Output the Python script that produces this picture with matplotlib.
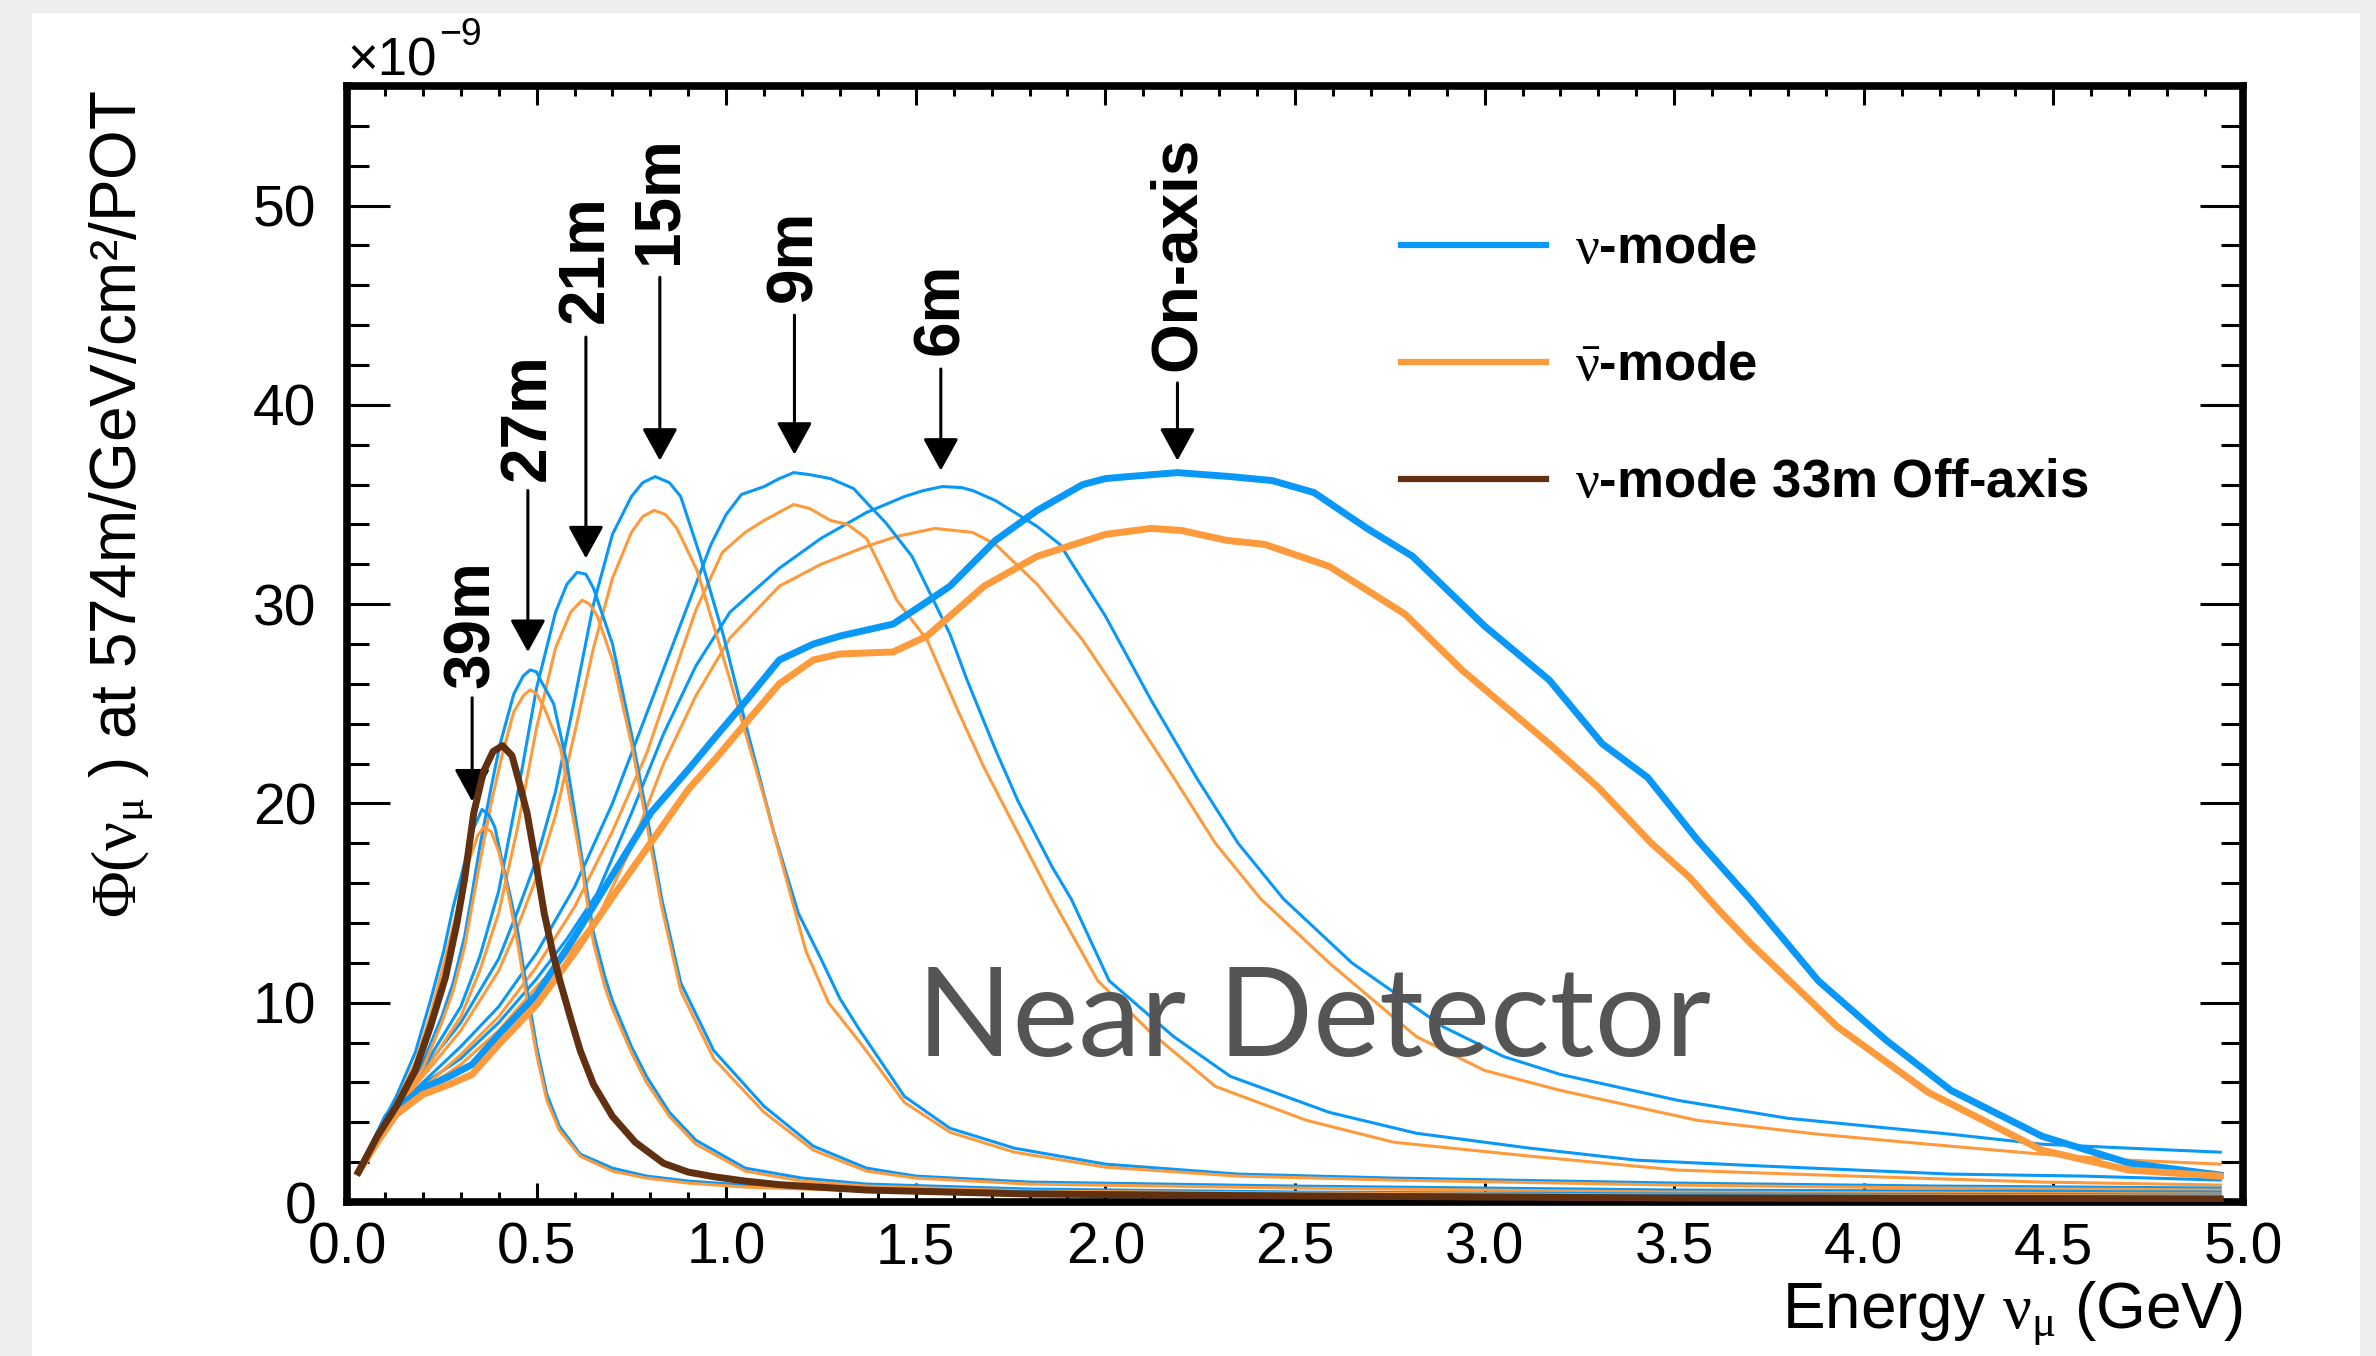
import matplotlib
matplotlib.use('Agg')
import matplotlib.pyplot as plt
from matplotlib.lines import Line2D
from matplotlib.patches import Rectangle
from matplotlib.ticker import MultipleLocator
import matplotlib.transforms as mtransforms

plt.rcParams['font.family'] = ['Liberation Sans', 'DejaVu Sans']
plt.rcParams['mathtext.fontset'] = 'custom'
plt.rcParams['mathtext.rm'] = 'Liberation Serif'
plt.rcParams['mathtext.it'] = 'Liberation Serif'
plt.rcParams['mathtext.bf'] = 'Liberation Serif:bold'

# ---- flux curves (x in GeV, y in 1e-9 units) ----
onaxis_nu_x = [0.03, 0.08, 0.13, 0.2, 0.27, 0.33, 0.4, 0.5, 0.6, 0.7, 0.8, 0.9, 0.97, 1.05, 1.14, 1.23,
               1.3, 1.37, 1.44, 1.52, 1.59, 1.71, 1.82, 1.94, 2.0, 2.06, 2.19, 2.33, 2.44, 2.55, 2.69, 2.81,
               3.0, 3.17, 3.31, 3.43, 3.56, 3.7, 3.88, 4.06, 4.23, 4.47, 4.7, 4.94]
onaxis_nu_y = [1.5, 3.2, 4.7, 5.7, 6.3, 6.9, 8.4, 10.4, 13.3, 16.4, 19.5, 21.7, 23.3, 25.1, 27.2, 28.0,
               28.4, 28.7, 29.0, 30.0, 30.9, 33.2, 34.7, 36.0, 36.3, 36.4, 36.6, 36.4, 36.2, 35.6, 33.8, 32.4,
               28.9, 26.2, 23.0, 21.3, 18.2, 15.2, 11.1, 8.1, 5.6, 3.3, 1.95, 1.35]
onaxis_nubar_x = [0.03, 0.08, 0.13, 0.2, 0.27, 0.33, 0.4, 0.5, 0.6, 0.7, 0.8, 0.9, 0.97, 1.05, 1.14, 1.23,
                  1.3, 1.44, 1.53, 1.68, 1.82, 2.0, 2.12, 2.2, 2.32, 2.42, 2.59, 2.79, 2.94, 3.17, 3.3,
                  3.44, 3.54, 3.62, 3.7, 3.93, 4.17, 4.47, 4.7, 4.94]
onaxis_nubar_y = [1.5, 3.0, 4.4, 5.4, 5.9, 6.4, 7.9, 9.9, 12.5, 15.3, 18.0, 20.7, 22.2, 24.0, 26.0, 27.2,
                  27.5, 27.6, 28.4, 30.9, 32.4, 33.5, 33.8, 33.7, 33.2, 33.0, 31.9, 29.5, 26.7, 23.0, 20.8,
                  18.0, 16.3, 14.6, 13.0, 8.8, 5.5, 2.6, 1.6, 1.3]

m6_nu_x = [0.03, 0.1, 0.2, 0.3, 0.4, 0.5, 0.58, 0.66, 0.75, 0.835, 0.92, 1.01, 1.14, 1.25, 1.37, 1.47,
           1.52, 1.57, 1.62, 1.65, 1.71, 1.82, 1.88, 2.0, 2.12, 2.24, 2.35, 2.47, 2.65, 2.89, 3.05, 3.2,
           3.51, 3.8, 4.23, 4.47, 4.7, 4.94]
m6_nu_y = [1.5, 4.0, 5.9, 7.2, 9.0, 11.2, 13.2, 15.5, 19.5, 23.5, 26.9, 29.6, 31.8, 33.3, 34.6, 35.4,
           35.7, 35.9, 35.85, 35.7, 35.2, 33.9, 33.0, 29.4, 25.2, 21.3, 18.0, 15.2, 12.0, 8.8, 7.3, 6.4,
           5.1, 4.2, 3.4, 2.9, 2.7, 2.5]
m6_nubar_x = [0.03, 0.1, 0.2, 0.3, 0.4, 0.5, 0.58, 0.66, 0.75, 0.835, 0.92, 1.01, 1.14, 1.25, 1.37, 1.45,
              1.55, 1.65, 1.71, 1.82, 1.94, 2.06, 2.18, 2.29, 2.41, 2.59, 2.82, 3.0, 3.2, 3.56, 3.88,
              4.17, 4.47, 4.7, 4.94]
m6_nubar_y = [1.5, 3.8, 5.6, 6.9, 8.6, 10.8, 12.4, 14.2, 17.8, 22.0, 25.4, 28.3, 30.9, 32.0, 32.9, 33.4,
              33.8, 33.6, 33.0, 31.0, 28.2, 24.8, 21.3, 18.0, 15.2, 12.0, 8.3, 6.6, 5.6, 4.1, 3.4,
              2.9, 2.4, 2.1, 1.9]

m9_nu_x = [0.03, 0.1, 0.2, 0.3, 0.4, 0.5, 0.6, 0.7, 0.79, 0.88, 0.96, 1.0, 1.04, 1.1, 1.14, 1.178, 1.22,
           1.275, 1.336, 1.37, 1.42, 1.49, 1.59, 1.635, 1.71, 1.77, 1.86, 1.91, 2.01, 2.18, 2.33, 2.59,
           2.82, 3.12, 3.4, 3.74, 4.23, 4.58, 4.94]
m9_nu_y = [1.5, 4.1, 6.0, 7.8, 9.8, 12.5, 15.8, 20.0, 24.5, 29.0, 33.0, 34.5, 35.5, 35.9, 36.3, 36.6, 36.5,
           36.3, 35.8, 35.1, 34.1, 32.4, 28.5, 26.2, 22.7, 20.1, 16.8, 15.2, 11.1, 8.3, 6.3, 4.5,
           3.45, 2.7, 2.1, 1.8, 1.4, 1.3, 1.1]
m9_nubar_x = [0.03, 0.1, 0.2, 0.3, 0.4, 0.5, 0.6, 0.7, 0.79, 0.835, 0.92, 0.99, 1.05, 1.1, 1.178, 1.22,
              1.275, 1.32, 1.37, 1.45, 1.53, 1.61, 1.68, 1.77, 1.86, 1.98, 2.12, 2.29, 2.53, 2.76, 3.12,
              3.51, 3.97, 4.47, 4.94]
m9_nubar_y = [1.5, 3.9, 5.7, 7.4, 9.3, 11.8, 14.8, 18.6, 22.5, 25.0, 29.7, 32.6, 33.6, 34.2, 35.0, 34.8,
              34.2, 34.0, 33.3, 30.2, 28.2, 24.7, 21.8, 18.5, 15.2, 11.1, 8.5, 5.8, 4.1, 3.0, 2.3,
              1.6, 1.3, 1.0, 0.85]

m15_nu_x = [0.03, 0.1, 0.2, 0.3, 0.4, 0.45, 0.5, 0.55, 0.6, 0.65, 0.7, 0.75, 0.78, 0.813, 0.85, 0.88,
            0.93, 0.993, 1.055, 1.125, 1.19, 1.25, 1.3, 1.353, 1.47, 1.59, 1.76, 2.0, 2.35, 2.76, 3.5,
            4.2, 4.94]
m15_nu_y = [1.5, 4.2, 6.6, 9.0, 12.2, 14.6, 17.2, 20.6, 25.2, 30.0, 33.5, 35.4, 36.1, 36.4, 36.1, 35.4,
            32.5, 28.4, 23.7, 18.6, 14.5, 12.2, 10.2, 8.6, 5.3, 3.7, 2.7, 1.9, 1.4, 1.2, 0.95,
            0.8, 0.7]
m15_nubar_x = [0.03, 0.1, 0.2, 0.3, 0.4, 0.45, 0.5, 0.55, 0.6, 0.65, 0.7, 0.75, 0.78, 0.81, 0.84, 0.87,
               0.923, 1.01, 1.1, 1.15, 1.21, 1.27, 1.353, 1.47, 1.59, 1.76, 2.0, 2.35, 2.76, 3.5, 4.2, 4.94]
m15_nubar_y = [1.5, 4.0, 6.3, 8.6, 11.6, 13.8, 16.3, 19.4, 23.5, 27.8, 31.3, 33.6, 34.4, 34.7, 34.5, 33.8,
               31.7, 26.2, 20.3, 16.8, 12.6, 10.0, 8.0, 5.0, 3.5, 2.5, 1.75, 1.3, 1.1, 0.85, 0.7, 0.6]

m21_nu_x = [0.03, 0.1, 0.2, 0.3, 0.35, 0.4, 0.45, 0.5, 0.55, 0.58, 0.607, 0.63, 0.65, 0.7, 0.75, 0.79,
            0.83, 0.88, 0.967, 1.1, 1.23, 1.37, 1.5, 1.8, 2.5, 3.5, 4.94]
m21_nu_y = [1.5, 4.3, 6.7, 9.8, 12.3, 15.6, 20.5, 25.8, 29.6, 31.0, 31.6, 31.5, 30.8, 28.0, 23.5, 19.5,
            15.2, 11.0, 7.6, 4.8, 2.8, 1.7, 1.3, 1.0, 0.8, 0.6, 0.5]
m21_nubar_x = [0.03, 0.1, 0.2, 0.3, 0.35, 0.4, 0.45, 0.5, 0.55, 0.59, 0.62, 0.64, 0.66, 0.7, 0.75, 0.79,
               0.83, 0.88, 0.967, 1.1, 1.23, 1.37, 1.5, 1.8, 2.5, 3.5, 4.94]
m21_nubar_y = [1.5, 4.1, 6.4, 9.3, 11.6, 14.5, 18.8, 23.8, 27.8, 29.6, 30.2, 30.0, 29.4, 27.2, 23.0, 19.0,
               14.8, 10.6, 7.2, 4.5, 2.6, 1.55, 1.2, 0.9, 0.7, 0.5, 0.4]

m27_nu_x = [0.03, 0.1, 0.15, 0.2, 0.25, 0.28, 0.31, 0.33, 0.35, 0.38, 0.404, 0.44, 0.465, 0.483, 0.5, 0.51,
            0.545, 0.58, 0.615, 0.65, 0.68, 0.7, 0.75, 0.79, 0.85, 0.92, 1.05, 1.2, 1.37, 1.8, 2.5, 3.5, 4.94]
m27_nu_y = [1.5, 4.3, 5.4, 7.0, 9.3, 11.0, 13.3, 15.5, 17.8, 20.8, 23.0, 25.5, 26.4, 26.7, 26.6, 26.2,
            25.0, 22.0, 17.8, 13.5, 11.3, 10.1, 7.8, 6.3, 4.5, 3.1, 1.7, 1.2, 0.9, 0.65, 0.5, 0.4, 0.35]
m27_nubar_x = [0.03, 0.1, 0.15, 0.2, 0.25, 0.28, 0.31, 0.35, 0.38, 0.41, 0.44, 0.465, 0.483, 0.5, 0.52,
               0.563, 0.615, 0.65, 0.68, 0.7, 0.75, 0.79, 0.85, 0.92, 1.05, 1.2, 1.37, 1.8, 2.5, 3.5, 4.94]
m27_nubar_y = [1.5, 4.1, 5.2, 6.7, 9.0, 10.6, 12.8, 17.0, 20.0, 22.5, 24.6, 25.4, 25.7, 25.5, 24.8,
               22.8, 17.3, 13.0, 10.8, 9.7, 7.5, 6.0, 4.3, 2.9, 1.55, 1.05, 0.8, 0.55, 0.45, 0.35, 0.3]

m39_nu_x = [0.03, 0.08, 0.13, 0.18, 0.22, 0.255, 0.28, 0.31, 0.335, 0.356, 0.375, 0.39, 0.41, 0.43, 0.45,
            0.475, 0.5, 0.527, 0.56, 0.615, 0.7, 0.79, 0.9, 1.05, 1.37, 2.0, 3.0, 4.0, 4.94]
m39_nu_y = [1.5, 3.5, 5.3, 7.5, 10.1, 12.6, 14.8, 17.0, 18.8, 19.7, 19.4, 18.8, 17.0, 15.4, 13.6,
            10.6, 7.8, 5.4, 3.8, 2.4, 1.7, 1.3, 1.05, 0.85, 0.65, 0.45, 0.35, 0.3, 0.25]
m39_nubar_x = [0.03, 0.08, 0.13, 0.18, 0.22, 0.26, 0.29, 0.32, 0.345, 0.36, 0.38, 0.4, 0.42, 0.45, 0.475,
               0.5, 0.527, 0.56, 0.615, 0.7, 0.79, 0.9, 1.05, 1.37, 2.0, 3.0, 4.0, 4.94]
m39_nubar_y = [1.5, 3.3, 5.0, 7.0, 9.4, 12.3, 14.6, 17.0, 18.4, 18.8, 18.6, 17.6, 16.0, 13.0, 10.1,
               7.4, 5.1, 3.6, 2.3, 1.55, 1.2, 0.95, 0.75, 0.55, 0.4, 0.3, 0.25, 0.2]

m33_nu_x = [0.03, 0.08, 0.13, 0.18, 0.22, 0.26, 0.29, 0.31, 0.334, 0.36, 0.385, 0.41, 0.435, 0.455, 0.475,
            0.5, 0.52, 0.545, 0.563, 0.59, 0.615, 0.65, 0.7, 0.76, 0.835, 0.9, 0.967, 1.05, 1.14, 1.37,
            1.8, 2.5, 3.5, 4.94]
m33_nu_y = [1.5, 3.3, 4.8, 6.6, 8.8, 11.3, 14.0, 16.2, 19.5, 21.6, 22.6, 22.9, 22.4, 21.0, 19.5,
            16.8, 14.5, 12.3, 11.0, 9.2, 7.6, 5.9, 4.3, 3.0, 1.94, 1.5, 1.27, 1.05, 0.87, 0.6,
            0.4, 0.3, 0.2, 0.15]

# arrow annotations: label, x, arrow tip, arrow tail, label centre
arrow_labels = ['39m', '27m', '21m', '15m', '9m', '6m', 'On-axis']
arrow_x = [0.33, 0.477, 0.63, 0.825, 1.18, 1.566, 2.19]
arrow_tip = [20.1, 27.6, 32.3, 37.2, 37.5, 36.7, 37.2]
arrow_tail = [25.3, 35.7, 43.4, 46.4, 44.5, 41.8, 41.1]
label_y = [29.0, 39.4, 47.3, 50.3, 47.5, 44.8, 47.6]

legend_labels = [r'$\nu$-mode', r'$\bar{\nu}$-mode', r'$\nu$-mode 33m Off-axis']

BLUE = '#0998f7'
ORANGE = '#fd9a3c'
BROWN = '#603010'

fig = plt.figure(figsize=(23.76, 13.56), dpi=100, facecolor='#eceeef')
fig.patches.append(Rectangle((32 / 2376, 0), (2360 - 32) / 2376, 1 - 13 / 1356,
                             transform=fig.transFigure, facecolor='white', edgecolor='none', zorder=-5))

ax = fig.add_axes([347 / 2376, 1 - 1202 / 1356, (2243 - 347) / 2376, (1202 - 86) / 1356])
ax.set_facecolor('none')

thin = [(m6_nu_x, m6_nu_y, m6_nubar_x, m6_nubar_y),
        (m9_nu_x, m9_nu_y, m9_nubar_x, m9_nubar_y),
        (m15_nu_x, m15_nu_y, m15_nubar_x, m15_nubar_y),
        (m21_nu_x, m21_nu_y, m21_nubar_x, m21_nubar_y),
        (m27_nu_x, m27_nu_y, m27_nubar_x, m27_nubar_y),
        (m39_nu_x, m39_nu_y, m39_nubar_x, m39_nubar_y)]
for bx, by, ox, oy in thin:
    ax.plot(bx, by, color=BLUE, lw=2.2, solid_joinstyle='round', zorder=2)
    ax.plot(ox, oy, color=ORANGE, lw=2.2, solid_joinstyle='round', zorder=2)

ax.plot(onaxis_nu_x, onaxis_nu_y, color=BLUE, lw=5, solid_joinstyle='round', zorder=3)
ax.plot(onaxis_nubar_x, onaxis_nubar_y, color=ORANGE, lw=5, solid_joinstyle='round', zorder=3)
ax.plot(m33_nu_x, m33_nu_y, color=BROWN, lw=5, solid_joinstyle='round', zorder=4)

for lab, x, tip, tail, ly in zip(arrow_labels, arrow_x, arrow_tip, arrow_tail, label_y):
    ax.annotate('', xy=(x, tip), xytext=(x, tail),
                arrowprops=dict(arrowstyle='-|>,head_length=0.4,head_width=0.22',
                                lw=2.2, color='black', mutation_scale=50,
                                shrinkA=0, shrinkB=0))
    ax.text(x, ly, lab, rotation=90, ha='center', va='center',
            fontsize=46, fontweight='bold')

ax.set_xlim(0, 5)
ax.set_ylim(0, 56)
ax.xaxis.set_major_locator(MultipleLocator(0.5))
ax.xaxis.set_minor_locator(MultipleLocator(0.1))
ax.yaxis.set_major_locator(MultipleLocator(10))
ax.yaxis.set_minor_locator(MultipleLocator(2))
ax.xaxis.set_major_formatter(plt.FuncFormatter(lambda v, p: f'{v:.1f}'))
ax.tick_params(which='both', direction='in', top=True, right=True, width=2.2, labelsize=41)
ax.tick_params(axis='x', which='major', length=14, pad=14)
ax.tick_params(axis='x', which='minor', length=7)
ax.tick_params(axis='y', which='major', length=31, pad=22)
ax.tick_params(axis='y', which='minor', length=16)
for s in ax.spines.values():
    s.set_linewidth(5.5)

ax.text(1.0, -0.112, r'Energy $\nu_{\mu}$ (GeV)', transform=ax.transAxes,
        ha='right', va='baseline', fontsize=46)
ax.text(-0.119, 0.625, r'$\Phi(\nu_{\mu}$ ) at 574m/GeV/cm²/POT', transform=ax.transAxes,
        rotation=90, ha='center', va='center', fontsize=46)

ax.text(0.0, 1.0, '×10', transform=ax.transAxes, ha='left', va='bottom', fontsize=38)
ax.text(0.0, 1.0, '−9', transform=mtransforms.offset_copy(ax.transAxes, fig=fig, x=66, y=24, units='points'),
        ha='left', va='bottom', fontsize=27)

handles = [Line2D([], [], color=c, lw=4.5) for c in (BLUE, ORANGE, BROWN)]
ax.legend(handles, legend_labels, loc='upper left', bbox_to_anchor=(0.556, 0.876),
          frameon=False, borderpad=0, borderaxespad=0, handlelength=2.75,
          handletextpad=0.54, labelspacing=1.27, prop=dict(weight='bold', size=38))

fig.text(917 / 2376, 1 - 1056 / 1356, 'Near Detector', fontsize=90, family='Lato',
         fontweight='normal', color='#555555', ha='left', va='baseline')

fig.savefig('out.png', dpi=100, facecolor=fig.get_facecolor())
